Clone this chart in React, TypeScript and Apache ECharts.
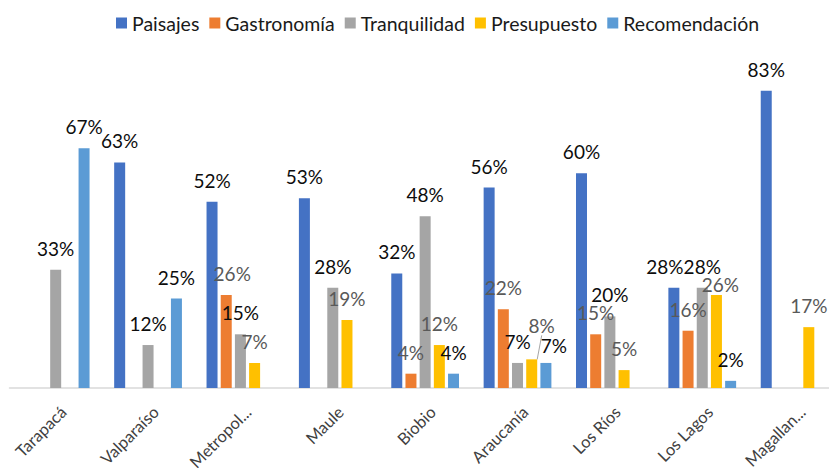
import React, { useEffect, useRef } from "react";
import * as echarts from "echarts";

const categories = ["Tarapacá", "Valparaíso", "Metropol...", "Maule", "Biobio", "Araucanía", "Los Ríos", "Los Lagos", "Magallan..."];
const seriesNames = ["Paisajes", "Gastronomía", "Tranquilidad", "Presupuesto", "Recomendación"];
const paisajes = [null, 63, 52, 53, 32, 56, 60, 28, 83];
const gastronomia = [null, null, 26, null, 4, 22, 15, 16, null];
const tranquilidad = [33, 12, 15, 28, 48, 7, 20, 28, null];
const presupuesto = [null, null, 7, 19, 12, 8, 5, 26, 17];
const recomendacion = [67, 25, null, null, 4, 7, null, 2, null];

const seriesValues = [paisajes, gastronomia, tranquilidad, presupuesto, recomendacion];
const seriesColors = ["#4472C4", "#ED7D31", "#A5A5A5", "#FFC000", "#5B9BD5"];
const labelColors = ["#0d0d0d", "#595959", "#0d0d0d", "#595959", "#0d0d0d"];
// label nudges [dx, dy] per series index -> data index
const labelNudges: Record<number, Record<number, number[]>> = {
  0: { 7: [-9, 0] },
  1: { 2: [6, 0] },
  3: { 5: [10, -12], 7: [4, 11] },
  4: { 5: [8, 4] },
};
const leaderLines: Record<number, number[]> = { 3: [5] };

const FONT = "Lato, 'Open Sans', sans-serif";

export default function App() {
  const ref = useRef<HTMLDivElement>(null);
  useEffect(() => {
    if (!ref.current) return;
    const chart = echarts.init(ref.current, null, { renderer: "svg" });
    const series = seriesNames.map((name, si) => ({
      name,
      type: "bar",
      barWidth: 11,
      barGap: "29%",
      itemStyle: { color: seriesColors[si] },
      label: {
        show: true,
        position: "top",
        distance: 12,
        formatter: "{c}%",
        color: labelColors[si],
        fontFamily: FONT,
        fontSize: 19,
      },
      labelLine: { show: false, lineStyle: { color: "#a6a6a6", width: 1 } },
      labelLayout: (p: any) => {
        const n = labelNudges[si] && labelNudges[si][p.dataIndex];
        return n ? { dx: n[0], dy: n[1] } : {};
      },
      data: seriesValues[si].map((v, i) => {
        if (v === null) return null;
        const withLine = leaderLines[si] && leaderLines[si].includes(i);
        return withLine ? { value: v, labelLine: { show: true, lineStyle: { color: "#a6a6a6", width: 1 } } } : v;
      }),
    }));
    chart.setOption({
      animation: false,
      backgroundColor: "#ffffff",
      legend: {
        data: seriesNames,
        left: 111,
        top: 8,
        icon: "rect",
        itemWidth: 11,
        itemHeight: 11,
        itemGap: 10,
        textStyle: { fontFamily: FONT, fontSize: 19.5, color: "#1a1a1a" },
      },
      grid: { left: 9.5, right: -11.8, top: 30, bottom: 80, containLabel: false, outerBoundsMode: "none" },
      xAxis: {
        type: "category",
        data: categories,
        axisLine: { show: true, lineStyle: { color: "#d9d9d9", width: 1.5 } },
        axisTick: { show: false },
        axisLabel: {
          rotate: 45,
          interval: 0,
          margin: 29,
          padding: [0, -11, 0, 0],
          fontFamily: FONT,
          fontSize: 16.5,
          color: "#404040",
        },
      },
      yAxis: {
        type: "value",
        min: 0,
        max: 100,
        show: false,
        splitLine: { show: false },
      },
      series,
    });
    return () => chart.dispose();
  }, []);
  return <div ref={ref} style={{ width: 829, height: 468, position: "absolute", left: 0, top: 0 }} />;
}
